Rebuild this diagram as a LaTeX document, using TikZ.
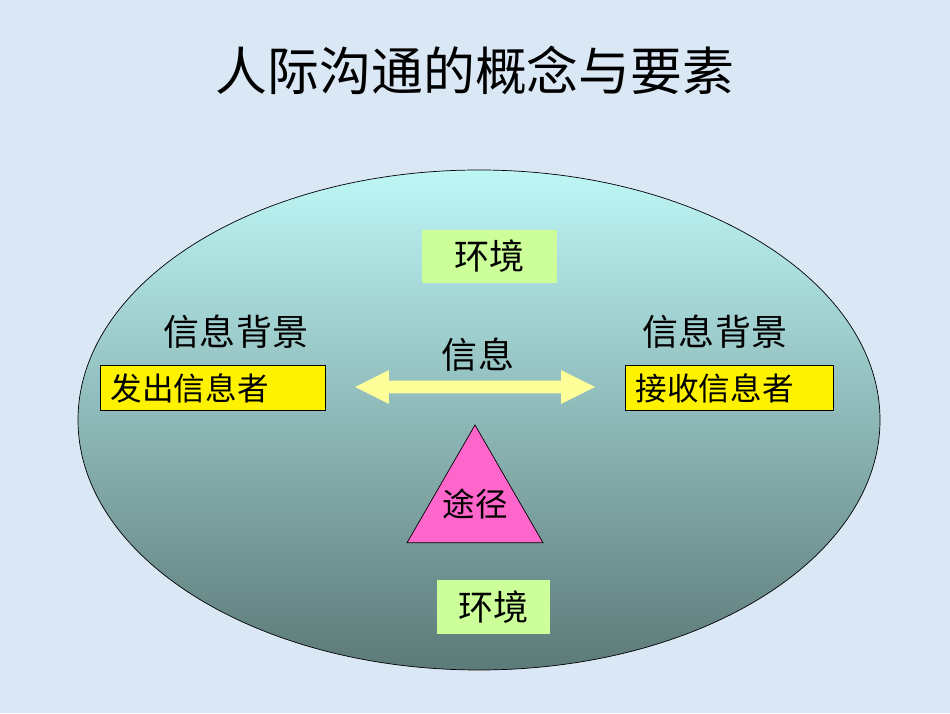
\documentclass[tikz,border=0pt]{standalone}
\usepackage{fontspec}
\newfontfamily\cjk{Noto Sans CJK SC}
\usepackage{tikz}
\usetikzlibrary{shapes.geometric, shapes.arrows}
\usepackage{xcolor}
\definecolor{bgblue}{RGB}{218,232,246}
\definecolor{envgreen}{RGB}{204,255,153}
\definecolor{tipink}{RGB}{255,102,204}
\definecolor{msgyellow}{RGB}{255,255,153}

\begin{document}
\begin{tikzpicture}[
    envbox/.style={fill=envgreen, minimum width=2.7cm, minimum height=1.06cm, font=\cjk\fontsize{20}{20}\selectfont},
    partybox/.style={draw, fill=yellow, minimum height=0.9cm, text width=4.1cm, inner xsep=0.2cm, align=left, font=\cjk\fontsize{18}{18}\selectfont},
    bgtext/.style={font=\cjk\fontsize{20.5}{20.5}\selectfont}
]
    \fill[bgblue] (0,0) rectangle (19,14.26);
    \useasboundingbox (0,0) rectangle (19,14.26);

    \node[font=\cjk\fontsize{29.5}{29.5}\selectfont] (title) at (9.5,12.86) {人际沟通的概念与要素};

    \draw[top color={rgb,255:red,190;green,246;blue,246}, bottom color={rgb,255:red,92;green,122;blue,120}]
        (9.58,5.86) ellipse [x radius=8.02cm, y radius=5cm];

    \node[envbox] (envtop) at (9.79,9.13) {环境};
    \node[envbox, minimum width=2.26cm, minimum height=1.08cm] (envbot) at (9.87,2.12) {环境};

    \node[bgtext] (bgleft) at (4.72,7.62) {信息背景};
    \node[bgtext] (bgright) at (14.3,7.62) {信息背景};

    \node[partybox] (sender) at (4.26,6.5) {发出信息者};
    \node[partybox, text width=3.76cm] (receiver) at (14.59,6.5) {接收信息者};

    \node[double arrow, fill=msgyellow, inner xsep=0pt, inner ysep=0.12cm, minimum height=4.8cm,
          double arrow head extend=0.21cm, double arrow tip angle=53] (msg) at (9.5,6.52) {};
    \node[bgtext] (msglabel) at (9.56,7.16) {信息};

    \node[regular polygon, regular polygon sides=3, draw, fill=tipink, minimum size=3.14cm, inner sep=0pt,
          label={[font=\cjk\fontsize{18.5}{18.5}\selectfont]center:途径}] (channel) at (9.5,4.19) {};
\end{tikzpicture}
\end{document}
